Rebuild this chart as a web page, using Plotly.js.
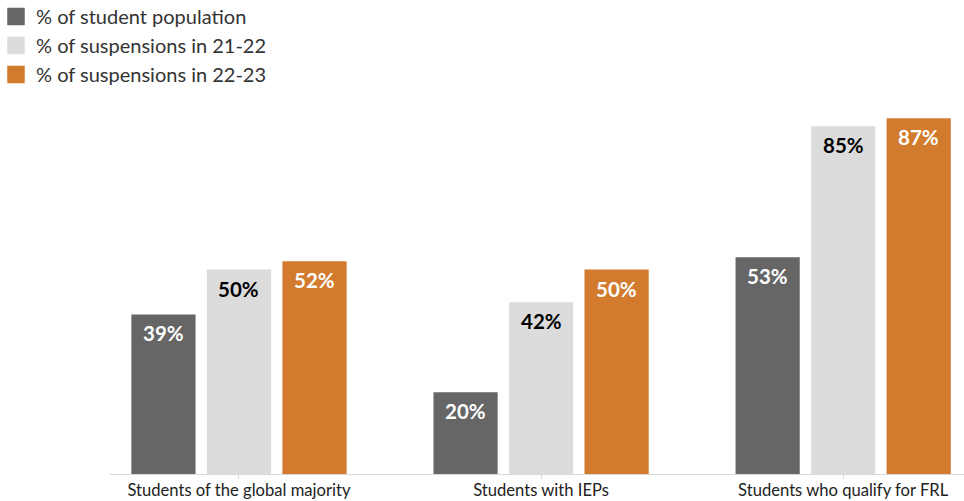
<!DOCTYPE html>
<html>
<head>
<meta charset="utf-8">
<script src="https://cdn.plot.ly/plotly-3.0.1.min.js"></script>
<style>html,body{margin:0;padding:0;background:#fff;}#chart{width:964px;height:501px;}</style>
</head>
<body>
<div id="chart"></div>
<script>
const categories = ["Students of the global majority", "Students with IEPs", "Students who qualify for FRL"];
const seriesNames = ["% of student population", "% of suspensions in 21-22", "% of suspensions in 22-23"];
const studentPopulation = [39, 20, 53];
const suspensions2122 = [50, 42, 85];
const suspensions2223 = [52, 50, 87];

const colors = ["#666666", "#dcdcdc", "#d27b2e"];
const textColors = ["#ffffff", "#000000", "#ffffff"];
const FONT = "Lato, 'Source Sans Pro', 'Noto Sans', sans-serif";

const seriesValues = [studentPopulation, suspensions2122, suspensions2223];
const traces = [];
const annotations = [];
const slotPx = 75.5;
seriesValues.forEach((vals, i) => {
  traces.push({
    type: "bar",
    name: seriesNames[i],
    x: categories,
    y: vals,
    marker: {color: colors[i], line: {width: 0}},
    showlegend: false,
    hoverinfo: "skip"
  });
  vals.forEach((v, j) => {
    annotations.push({
      x: categories[j], y: v, xref: "x", yref: "y",
      text: "<b>" + v + "%</b>",
      showarrow: false,
      xanchor: "center", yanchor: "top",
      xshift: (i - 1) * slotPx, yshift: -5,
      font: {family: FONT, size: 20.5, color: textColors[i]}
    });
  });
});
seriesNames.forEach((n, i) => {
  traces.push({
    type: "scatter", mode: "markers", name: n,
    x: [null], y: [null],
    marker: {symbol: "square", size: 16, color: colors[i], line: {width: 1.5, color: colors[i]}},
    showlegend: true, hoverinfo: "skip"
  });
});

const layout = {
  width: 964, height: 501,
  margin: {l: 110, r: 0, t: 65, b: 27, pad: 0, autoexpand: false},
  paper_bgcolor: "#ffffff", plot_bgcolor: "#ffffff",
  font: {family: FONT, color: "#333333"},
  barmode: "group",
  bargap: 0.25,
  bargroupgap: 0.15,
  showlegend: true,
  legend: {
    xref: "paper", yref: "paper",
    x: -0.1335, y: 1.166, xanchor: "left", yanchor: "top",
    orientation: "v",
    font: {family: FONT, size: 20, color: "#333333"},
    itemwidth: 30,
    bgcolor: "rgba(0,0,0,0)"
  },
  annotations: annotations,
  xaxis: {
    type: "category",
    range: [-0.427, 2.40],
    showline: true, linecolor: "#d9d9d9", linewidth: 1,
    ticks: "outside", ticklen: 4, tickcolor: "#d9d9d9",
    ticklabelstandoff: -3,
    tickfont: {family: FONT, size: 16.6, color: "#222222"},
    showgrid: false, zeroline: false, fixedrange: true
  },
  yaxis: {
    range: [0, 100],
    visible: false, showgrid: false, zeroline: false, fixedrange: true
  }
};

Plotly.newPlot("chart", traces, layout, {displayModeBar: false, staticPlot: true});
</script>
</body>
</html>
